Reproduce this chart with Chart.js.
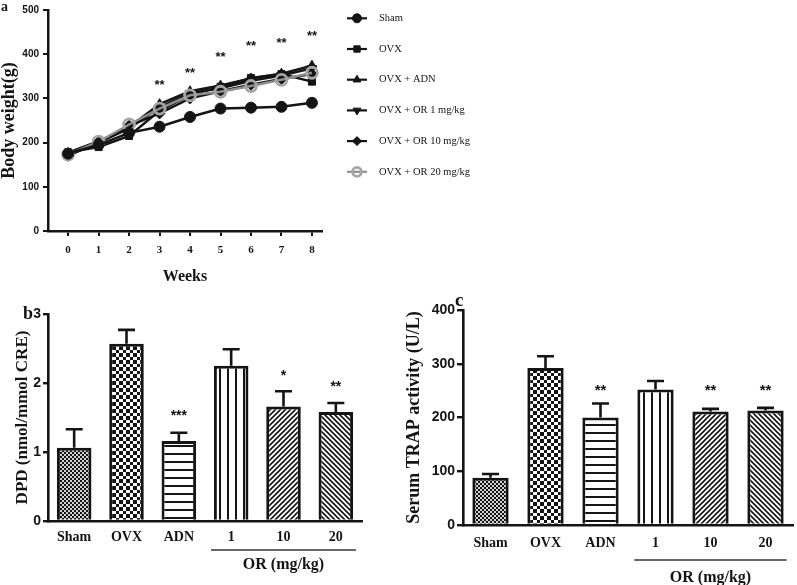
<!DOCTYPE html>
<html>
<head>
<meta charset="utf-8">
<script src="https://cdn.jsdelivr.net/npm/chart.js@4.4.1/dist/chart.umd.min.js"></script>
<style>
html, body { margin: 0; padding: 0; background: #fff; }
#wrap { position: relative; width: 797px; height: 585px; overflow: hidden; }
canvas { position: absolute; }
.tag { position: absolute; font-family: "Liberation Serif", "DejaVu Serif", serif; font-weight: bold; color: #141414; line-height: 1; }
</style>
</head>
<body>
<div id="wrap">
  <canvas id="weightChart" width="560" height="290" style="left:0;top:0"></canvas>
  <canvas id="dpdChart" width="400" height="295" style="left:0;top:290px"></canvas>
  <canvas id="trapChart" width="397" height="300" style="left:400px;top:285px"></canvas>
  <div class="tag" style="left:1px;top:0px;font-size:14px">a</div>
  <div class="tag" style="left:23px;top:304px;font-size:18px">b</div>
  <div class="tag" style="left:455px;top:290px;font-size:19px">c</div>
</div>
<script>
const serif = '"Liberation Serif", "Times New Roman", "DejaVu Serif", serif';
const sans = '"Liberation Sans", Arial, "DejaVu Sans", sans-serif';
const ink = '#141414';

// Panel a - body weight over weeks
const weeks = [0, 1, 2, 3, 4, 5, 6, 7, 8];
const shamWeight = [175, 195, 222, 236, 258, 277, 279, 281, 290];
const ovxWeight = [178, 190, 215, 272, 308, 326, 346, 355, 338];
const adnWeight = [177, 203, 235, 287, 316, 329, 345, 356, 374];
const or1Weight = [172, 200, 232, 280, 312, 323, 340, 352, 368];
const or10Weight = [170, 201, 238, 266, 300, 316, 331, 344, 355];
const or20Weight = [173, 202, 241, 277, 307, 315, 328, 342, 358];
const weightStarWeeks = [3, 4, 5, 6, 7, 8];
const weightStarLevels = [330, 358, 394, 418, 425, 440];
const weightStars = ['**', '**', '**', '**', '**', '**'];

// Panels b and c - bar groups
const groups = ['Sham', 'OVX', 'ADN', '1', '10', '20'];
const dpdMean = [1.06, 2.57, 1.16, 2.25, 1.66, 1.58];
const dpdErr = [0.27, 0.20, 0.12, 0.24, 0.22, 0.13];
const dpdStars = ['', '', '***', '', '*', '**'];
const dpdStarLevels = [0, 0, 1.56, 0, 2.14, 1.97];
const trapMean = [88, 292, 200, 252, 211, 213];
const trapErr = [7, 22, 26, 16, 5, 5];
const trapStars = ['', '', '**', '', '**', '**'];
const trapStarLevels = [0, 0, 255, 0, 255, 255];

// fill patterns for the bars
function makePattern(kind) {
    const t = document.createElement('canvas');
    const c = t.getContext('2d');
    let s = 8;
    if (kind === 'fine') s = 4;
    if (kind === 'check') s = 7;
    if (kind === 'diagUp' || kind === 'diagDown') s = 5;
    t.width = s; t.height = s;
    c.fillStyle = '#fff';
    c.fillRect(0, 0, s, s);
    c.fillStyle = ink;
    c.strokeStyle = ink;
    if (kind === 'fine') {
        c.fillRect(0, 0, s, s);
        c.fillStyle = '#fff';
        c.fillRect(0.1, 0.1, 1.8, 1.8);
        c.fillRect(2.1, 2.1, 1.8, 1.8);
    } else if (kind === 'check') {
        c.fillRect(0, 0, 4, 4);
        c.fillRect(4, 4, 3, 3);
    } else if (kind === 'hlines') {
        c.fillRect(0, 3, s, 2);
    } else if (kind === 'vlines') {
        c.fillRect(3, 0, 2, s);
    } else {
        c.lineWidth = 1.6;
        c.beginPath();
        if (kind === 'diagUp') {
            c.moveTo(-1, s + 1); c.lineTo(s + 1, -1);
            c.moveTo(-1, 1); c.lineTo(1, -1);
            c.moveTo(s - 1, s + 1); c.lineTo(s + 1, s - 1);
        } else {
            c.moveTo(-1, -1); c.lineTo(s + 1, s + 1);
            c.moveTo(-1, s - 1); c.lineTo(1, s + 1);
            c.moveTo(s - 1, -1); c.lineTo(s + 1, 1);
        }
        c.stroke();
    }
    return c.createPattern(t, 'repeat');
}
const barFills = ['fine', 'check', 'hlines', 'vlines', 'diagUp', 'diagDown'].map(makePattern);

// plugins
const errorBars = {
    id: 'errorBars',
    afterDatasetsDraw(chart) {
        const ctx = chart.ctx;
        const ys = chart.scales.y;
        chart.data.datasets.forEach((ds, i) => {
            if (!ds.err) return;
            chart.getDatasetMeta(i).data.forEach((bar, j) => {
                const top = ys.getPixelForValue(ds.data[j] + ds.err[j]);
                ctx.save();
                ctx.strokeStyle = ink;
                ctx.lineWidth = 2.6;
                ctx.beginPath();
                ctx.moveTo(bar.x, bar.y);
                ctx.lineTo(bar.x, top);
                ctx.moveTo(bar.x - 8.5, top);
                ctx.lineTo(bar.x + 8.5, top);
                ctx.stroke();
                ctx.restore();
            });
        });
    }
};

const starMarks = {
    id: 'starMarks',
    afterDatasetsDraw(chart, args, opts) {
        if (!opts.text) return;
        const ctx = chart.ctx;
        const xs = chart.scales.x, ys = chart.scales.y;
        ctx.save();
        ctx.font = 'bold ' + opts.size + 'px ' + sans;
        ctx.fillStyle = ink;
        ctx.textAlign = 'center';
        ctx.textBaseline = 'alphabetic';
        opts.text.forEach((t, k) => {
            if (!t) return;
            const x = xs.getPixelForValue(opts.at[k]);
            const y = ys.getPixelForValue(opts.levels[k]);
            ctx.fillText(t, x, y + opts.size * opts.lift);
        });
        ctx.restore();
    }
};

const groupLabel = {
    id: 'groupLabel',
    afterDraw(chart, args, opts) {
        if (!opts.text) return;
        const ctx = chart.ctx;
        const xs = chart.scales.x;
        const half = (xs.getPixelForValue(1) - xs.getPixelForValue(0)) / 2;
        const x0 = xs.getPixelForValue(opts.from) - half * 0.77;
        const x1 = xs.getPixelForValue(opts.to) + half * 0.77;
        const base = chart.chartArea.bottom;
        ctx.save();
        ctx.strokeStyle = '#333';
        ctx.lineWidth = 1.4;
        ctx.beginPath();
        ctx.moveTo(x0, base + opts.lineGap);
        ctx.lineTo(x1, base + opts.lineGap);
        ctx.stroke();
        ctx.fillStyle = ink;
        ctx.font = 'bold 16px ' + serif;
        ctx.textAlign = 'center';
        ctx.textBaseline = 'middle';
        ctx.fillText(opts.text, (x0 + x1) / 2, base + opts.textGap);
        ctx.restore();
    }
};

const sideLegend = {
    id: 'sideLegend',
    afterDraw(chart, args, opts) {
        if (!opts.x) return;
        const ctx = chart.ctx;
        chart.data.datasets.forEach((ds, i) => {
            const y = opts.y + i * opts.step;
            const mid = opts.x + opts.len / 2;
            ctx.save();
            ctx.strokeStyle = ds.borderColor;
            ctx.lineWidth = 2.2;
            ctx.beginPath();
            ctx.moveTo(opts.x, y);
            ctx.lineTo(opts.x + opts.len, y);
            ctx.stroke();
            ctx.fillStyle = ds.pointBackgroundColor;
            ctx.strokeStyle = ds.pointBorderColor;
            ctx.lineWidth = ds.pointBorderWidth;
            Chart.helpers.drawPoint(ctx, {
                pointStyle: ds.pointStyle,
                rotation: ds.pointRotation || 0,
                radius: 4.5,
                borderWidth: ds.pointBorderWidth
            }, mid, y);
            ctx.fillStyle = ink;
            ctx.font = '10.5px ' + serif;
            ctx.textAlign = 'left';
            ctx.textBaseline = 'middle';
            ctx.fillText(ds.label, opts.x + opts.len + 12, y);
            ctx.restore();
        });
    }
};

// Body weight line chart
const weightData = [shamWeight, ovxWeight, adnWeight, or1Weight, or10Weight, or20Weight];
const weightLabels = ['Sham', 'OVX', 'OVX + ADN', 'OVX + OR 1 mg/kg', 'OVX + OR 10 mg/kg', 'OVX + OR 20 mg/kg'];
const weightMarkers = ['circle', 'rect', 'triangle', 'triangle', 'rectRot', 'circle'];
const weightRotation = [0, 0, 0, 180, 0, 0];
const weightOrder = [0, 5, 4, 3, 2, 1];

const weightSets = weightData.map((vals, i) => {
    const grey = i === 5;
    return {
        label: weightLabels[i],
        data: weeks.map((w, k) => ({ x: w, y: vals[k] })),
        borderColor: grey ? '#8f8f8f' : ink,
        borderWidth: 2.5,
        pointStyle: weightMarkers[i],
        pointRotation: weightRotation[i],
        pointRadius: grey ? 5.5 : (weightMarkers[i] === 'rect' ? 5 : 5.5),
        pointBackgroundColor: grey ? 'rgba(0,0,0,0)' : ink,
        pointBorderColor: grey ? '#a6a6a6' : ink,
        pointBorderWidth: grey ? 2.8 : 1,
        tension: 0,
        order: weightOrder[i]
    };
});

new Chart(document.getElementById('weightChart').getContext('2d'), {
    type: 'line',
    data: { datasets: weightSets },
    plugins: [starMarks, sideLegend],
    options: {
        responsive: false,
        animation: false,
        layout: { padding: { top: 2, right: 238, left: 0, bottom: 0 } },
        plugins: {
            legend: { display: false },
            tooltip: { enabled: false },
            starMarks: { text: weightStars, at: weightStarWeeks, levels: weightStarLevels, size: 13, lift: 0.3 },
            sideLegend: { x: 347, y: 18.3, step: 30.7, len: 20 }
        },
        scales: {
            x: {
                type: 'linear',
                min: -0.66,
                max: 8.33,
                afterFit: s => { s.height = 59; },
                afterBuildTicks: s => { s.ticks = weeks.map(v => ({ value: v })); },
                border: { display: true, color: ink, width: 2.5 },
                grid: { drawOnChartArea: false, drawTicks: true, tickLength: 5, color: ink, lineWidth: 2 },
                ticks: { color: ink, padding: 8, font: { family: serif, size: 11, weight: 'bold' } },
                title: { display: true, text: 'Weeks', color: ink, padding: { top: 0, bottom: 4 }, font: { family: serif, size: 16, weight: 'bold' } }
            },
            y: {
                min: 0,
                max: 500,
                afterFit: s => { s.width = 48; },
                border: { display: true, color: ink, width: 2.5 },
                grid: { drawOnChartArea: false, drawTicks: true, tickLength: 5, color: ink, lineWidth: 2 },
                ticks: { stepSize: 100, color: ink, padding: 4, font: { family: sans, size: 10, weight: 'bold' } },
                title: { display: true, text: 'Body weight(g)', color: ink, padding: { top: 0, bottom: 0 }, font: { family: serif, size: 18, weight: 'bold', lineHeight: 1 } }
            }
        }
    }
});

// shared bar chart builder for panels b and c
function barOptions(cfg) {
    return {
        responsive: false,
        animation: false,
        layout: { padding: cfg.padding },
        plugins: {
            legend: { display: false },
            tooltip: { enabled: false },
            starMarks: { text: cfg.stars, at: [0, 1, 2, 3, 4, 5], levels: cfg.starLevels, size: cfg.starSize, lift: 0.45 },
            groupLabel: { text: 'OR (mg/kg)', from: 3, to: 5, lineGap: cfg.lineGap, textGap: cfg.textGap }
        },
        scales: {
            x: {
                afterFit: s => { s.height = cfg.xHeight; },
                border: { display: true, color: ink, width: 2.6 },
                grid: { display: false, drawTicks: false },
                ticks: { color: ink, padding: cfg.xPad, font: { family: serif, size: 14, weight: 'bold' } }
            },
            y: {
                min: 0,
                max: cfg.max,
                afterFit: s => { s.width = cfg.yWidth; },
                border: { display: true, color: ink, width: 2.6 },
                grid: { drawOnChartArea: false, drawTicks: true, tickLength: cfg.tick, color: ink, lineWidth: 2.4 },
                ticks: { stepSize: cfg.step, color: ink, padding: 2, font: { family: sans, size: 14, weight: 'bold' } },
                title: { display: true, text: cfg.title, color: ink, padding: { top: cfg.titlePad, bottom: 0 }, font: { family: serif, size: cfg.titleSize, weight: 'bold' } }
            }
        }
    };
}

new Chart(document.getElementById('dpdChart').getContext('2d'), {
    type: 'bar',
    data: {
        labels: groups,
        datasets: [{
            data: dpdMean,
            err: dpdErr,
            backgroundColor: barFills,
            borderColor: ink,
            borderWidth: 3,
            barPercentage: 0.66,
            categoryPercentage: 1
        }]
    },
    plugins: [errorBars, starMarks, groupLabel],
    options: barOptions({
        padding: { top: 24, right: 38, left: 0, bottom: 0 },
        stars: dpdStars, starLevels: dpdStarLevels, starSize: 14,
        lineGap: 29, textGap: 44, xHeight: 64, xPad: 8,
        max: 3, step: 1, yWidth: 48, tick: 5,
        title: 'DPD (nmol/mmol CRE)', titlePad: 12, titleSize: 17
    })
});

new Chart(document.getElementById('trapChart').getContext('2d'), {
    type: 'bar',
    data: {
        labels: groups,
        datasets: [{
            data: trapMean,
            err: trapErr,
            backgroundColor: barFills,
            borderColor: ink,
            borderWidth: 3,
            barPercentage: 0.66,
            categoryPercentage: 1
        }]
    },
    plugins: [errorBars, starMarks, groupLabel],
    options: barOptions({
        padding: { top: 25, right: 4, left: 0, bottom: 0 },
        stars: trapStars, starLevels: trapStarLevels, starSize: 15,
        lineGap: 35, textGap: 53, xHeight: 60, xPad: 10,
        max: 400, step: 100, yWidth: 63, tick: 6,
        title: 'Serum TRAP activity (U/L)', titlePad: 4, titleSize: 18
    })
});
</script>
</body>
</html>
